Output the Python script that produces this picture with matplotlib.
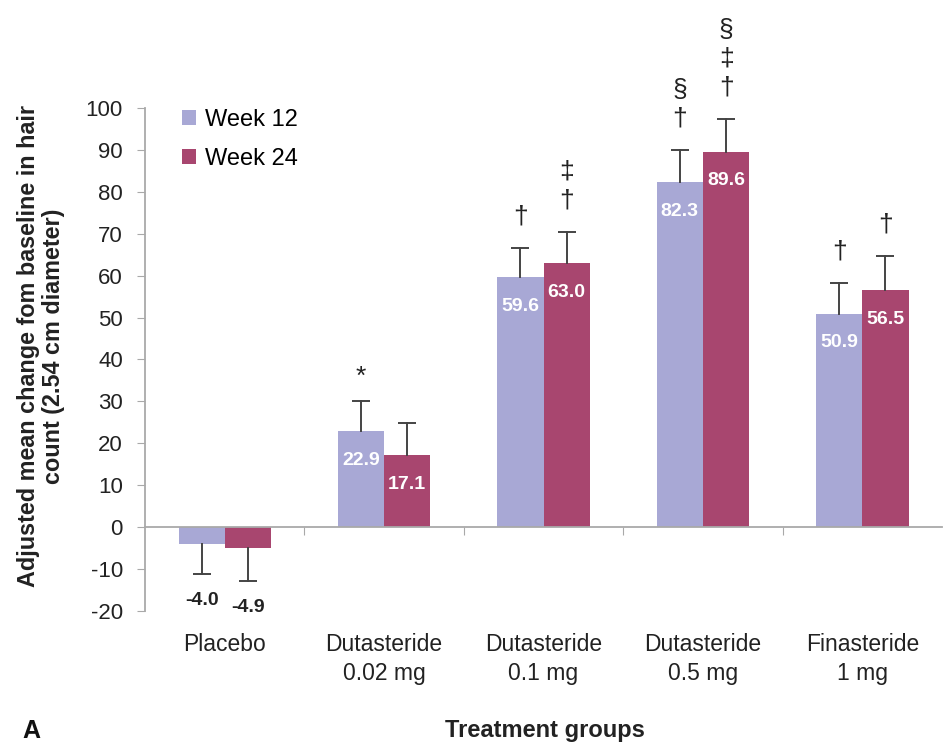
import matplotlib.pyplot as plt
from matplotlib.patches import Patch
from matplotlib.transforms import blended_transform_factory

plt.rcParams['font.family'] = ['Liberation Sans', 'DejaVu Sans']
plt.rcParams['axes.unicode_minus'] = False

groups = ['Placebo', 'Dutasteride\n0.02 mg', 'Dutasteride\n0.1 mg',
          'Dutasteride\n0.5 mg', 'Finasteride\n1 mg']
week12 = [-4.0, 22.9, 59.6, 82.3, 50.9]
week24 = [-4.9, 17.1, 63.0, 89.6, 56.5]
err12 = [7.2, 7.2, 7.0, 7.6, 7.3]
err24 = [8.0, 7.7, 7.4, 7.8, 8.2]
sig12 = ['', '*', '\u2020', '\u00a7\n\u2020', '\u2020']
sig24 = ['', '', '\u2021\n\u2020', '\u00a7\n\u2021\n\u2020', '\u2020']

c12 = '#a8a8d5'
c24 = '#a8466f'
grey = '#a9a9a9'
dark = '#222222'

fig = plt.figure(figsize=(9.43, 7.43), dpi=100)
ax = fig.add_axes([0.1538, 0.1777, 0.8452, 0.677])

w = 0.29
xs = list(range(len(groups)))

def draw_series(offset, vals, errs, sigs, color):
    for x, v, e, s in zip(xs, vals, errs, sigs):
        xb = x + offset
        ax.bar(xb, v, w, color=color, edgecolor='none', zorder=2)
        # one-sided error bar: stem plus a single cap at the far end
        end = v + e if v >= 0 else v - e
        ax.plot([xb, xb], [v, end], color='#444444', lw=1.4, zorder=3)
        ax.plot(xb, end, marker='_', ms=13, mew=1.4, color='#444444', zorder=3)
        if v >= 0:
            ax.annotate(f'{v:.1f}', (xb, v), xytext=(0, -21), textcoords='offset points',
                        ha='center', va='center', color='white', fontsize=14,
                        fontweight='bold', zorder=4)
            if s:
                lift = 9 if s == '*' else 14
                ax.annotate(s, (xb, end), xytext=(0, lift), textcoords='offset points',
                            ha='center', va='bottom', fontsize=19, linespacing=1.25,
                            color=dark)
        else:
            ax.annotate(f'{v:.1f}', (xb, end), xytext=(0, -19), textcoords='offset points',
                        ha='center', va='center', color=dark, fontsize=14,
                        fontweight='bold')

draw_series(-w / 2, week12, err12, sig12, c12)
draw_series(w / 2, week24, err24, sig24, c24)

ax.set_xlim(-0.5, len(groups) - 0.5)
ax.set_ylim(-20, 100)
ax.set_yticks(range(-20, 101, 10))
ax.tick_params(axis='y', direction='out', length=6, color=grey, labelsize=16,
               labelcolor=dark, pad=10)

# category dividers on the zero line
ax.spines['bottom'].set_position(('data', 0))
ax.set_xticks([i + 0.5 for i in xs[:-1]])
ax.set_xticklabels([])
ax.tick_params(axis='x', direction='out', length=6, color=grey)
for side in ['top', 'right']:
    ax.spines[side].set_visible(False)
for side in ['left', 'bottom']:
    ax.spines[side].set_color(grey)
    ax.spines[side].set_linewidth(1.3)

trans = blended_transform_factory(ax.transData, ax.transAxes)
for x, g in zip(xs, groups):
    ax.text(x, -0.043, g, transform=trans, ha='center', va='top', fontsize=16.5,
            color=dark, linespacing=1.35)

handles = [Patch(facecolor=c12, label='Week 12'), Patch(facecolor=c24, label='Week 24')]
ax.legend(handles=handles, loc='upper left', bbox_to_anchor=(0.02, 1.04), frameon=False,
          fontsize=17, handlelength=0.6, handleheight=0.6, handletextpad=0.35,
          labelspacing=0.7)

fig.text(41 / 943, 1 - 346 / 743,
         'Adjusted mean change fom baseline in hair\ncount (2.54 cm diameter)',
         rotation=90, ha='center', va='center', fontsize=16.8, fontweight='bold',
         multialignment='center', color=dark, linespacing=1.1)
fig.text(545 / 943, 1 - 731 / 743, 'Treatment groups', ha='center', va='center',
         fontsize=17, fontweight='bold', color=dark)
fig.text(22 / 943, 1 - 731 / 743, 'A', ha='left', va='center',
         fontsize=18, fontweight='bold', color='#111111')

fig.savefig('out.png', dpi=100)
